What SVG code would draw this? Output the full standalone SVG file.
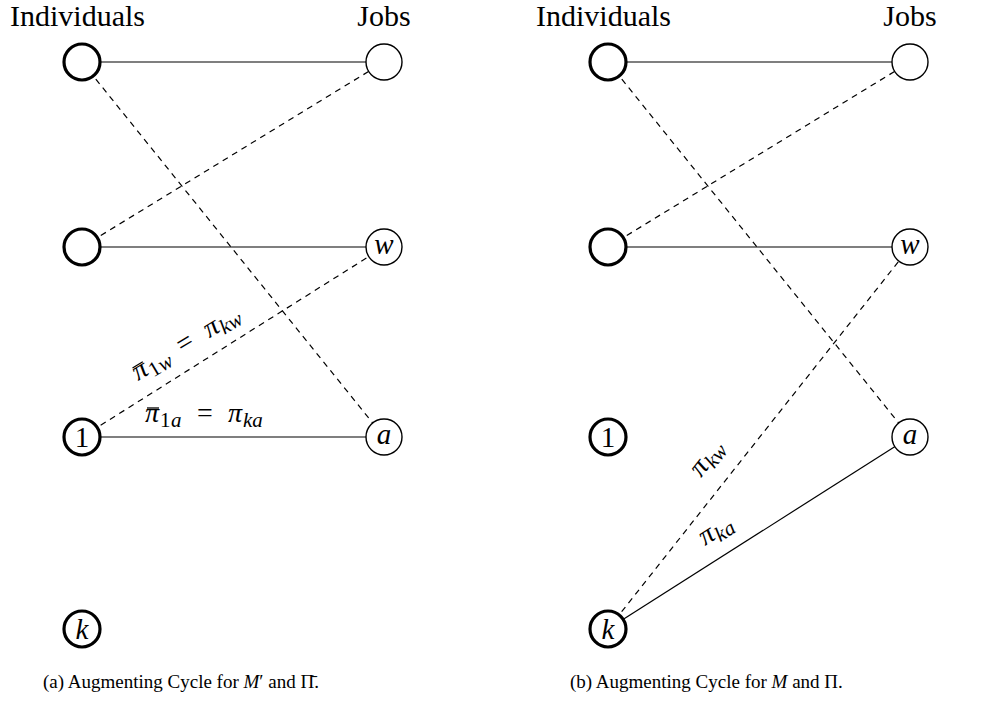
<svg xmlns="http://www.w3.org/2000/svg" width="1006" height="704" viewBox="0 0 1006 704">
<defs>
<style>
.t{font-family:"Liberation Serif","Times New Roman","DejaVu Serif",serif;fill:#000}
.m{font-family:"Liberation Serif","Times New Roman","DejaVu Serif",serif;font-style:italic;fill:#000}
.ind{fill:#fff;stroke:#000;stroke-width:3.2}
.job{fill:#fff;stroke:#000;stroke-width:1.4}
.s{stroke:#000;stroke-width:1.2;fill:none}
.d{stroke:#000;stroke-width:1.2;fill:none;stroke-dasharray:6 5}
.nl{font-size:29px;text-anchor:middle}
.bar{stroke:#000;stroke-width:1.3}
.big{font-size:28px}
.sub{font-size:21px}
</style>
</defs>
<rect width="1006" height="704" fill="#fff"/>
<g id="headers">
<text class="t" x="10" y="26" font-size="30">Individuals</text>
<text class="t" x="384" y="26" font-size="30" text-anchor="middle">Jobs</text>
<text class="t" x="536" y="26" font-size="30">Individuals</text>
<text class="t" x="910" y="26" font-size="30" text-anchor="middle">Jobs</text>
</g>
<g id="connectors">
<line class="s" x1="82" y1="62" x2="384" y2="62"/>
<line class="s" x1="82" y1="247" x2="384" y2="247"/>
<line class="s" x1="82" y1="437" x2="384" y2="437"/>
<line class="d" x1="82" y1="62" x2="384" y2="437"/>
<line class="d" x1="82" y1="247" x2="384" y2="62"/>
<line class="d" x1="82" y1="437" x2="384" y2="247"/>
<line class="s" x1="608" y1="62" x2="910" y2="62"/>
<line class="s" x1="608" y1="247" x2="910" y2="247"/>
<line class="s" x1="608" y1="629" x2="910" y2="437"/>
<line class="d" x1="608" y1="62" x2="910" y2="437"/>
<line class="d" x1="608" y1="247" x2="910" y2="62"/>
<line class="d" x1="608" y1="629" x2="910" y2="247"/>
</g>
<g id="edge-labels">
<g transform="translate(138 381) rotate(-31)">
<text class="m big" x="0" y="0">π</text>
<line class="bar" x1="2" y1="-14" x2="14" y2="-14"/>
<text class="t sub" x="15" y="5">1</text>
<text class="m sub" x="26" y="5">w</text>
<text class="t big" x="52" y="0">=</text>
<text class="m big" x="83" y="0">π</text>
<text class="m sub" x="98" y="5">kw</text>
</g>
<g transform="translate(145 422)">
<text class="m big" x="0" y="0">π</text>
<line class="bar" x1="2" y1="-14" x2="14" y2="-14"/>
<text class="t sub" x="15" y="5">1</text>
<text class="m sub" x="26" y="5">a</text>
<text class="t big" x="52" y="0">=</text>
<text class="m big" x="83" y="0">π</text>
<text class="m sub" x="98" y="5">ka</text>
</g>
<g transform="translate(701 478) rotate(-51.7)">
<text class="m big" x="0" y="0">π</text>
<text class="m sub" x="15" y="5">kw</text>
</g>
<g transform="translate(705 546) rotate(-32.6)">
<text class="m big" x="0" y="0">π</text>
<text class="m sub" x="15" y="5">ka</text>
</g>
</g>
<g id="a-i1"><circle class="ind" cx="82" cy="62" r="18"/></g>
<g id="a-i2"><circle class="ind" cx="82" cy="247" r="18"/></g>
<g id="a-i3"><circle class="ind" cx="82" cy="437" r="18"/><text class="t nl" x="82" y="447">1</text></g>
<g id="a-i4"><circle class="ind" cx="82" cy="629" r="18"/><text class="m nl" x="82" y="639">k</text></g>
<g id="a-j1"><circle class="job" cx="384" cy="62" r="18"/></g>
<g id="a-j2"><circle class="job" cx="384" cy="247" r="18"/><text class="m nl" x="384" y="254">w</text></g>
<g id="a-j3"><circle class="job" cx="384" cy="437" r="18"/><text class="m nl" x="384" y="444">a</text></g>
<g id="b-i1"><circle class="ind" cx="608" cy="62" r="18"/></g>
<g id="b-i2"><circle class="ind" cx="608" cy="247" r="18"/></g>
<g id="b-i3"><circle class="ind" cx="608" cy="437" r="18"/><text class="t nl" x="608" y="447">1</text></g>
<g id="b-i4"><circle class="ind" cx="608" cy="629" r="18"/><text class="m nl" x="608" y="639">k</text></g>
<g id="b-j1"><circle class="job" cx="910" cy="62" r="18"/></g>
<g id="b-j2"><circle class="job" cx="910" cy="247" r="18"/><text class="m nl" x="910" y="254">w</text></g>
<g id="b-j3"><circle class="job" cx="910" cy="437" r="18"/><text class="m nl" x="910" y="444">a</text></g>
<g id="captions">
<text class="t" x="43" y="688" font-size="19">(a) Augmenting Cycle for <tspan font-style="italic">M</tspan>′ and Π̄.</text>
<text class="t" x="570" y="688" font-size="19">(b) Augmenting Cycle for <tspan font-style="italic">M</tspan> and Π.</text>
</g>
</svg>
